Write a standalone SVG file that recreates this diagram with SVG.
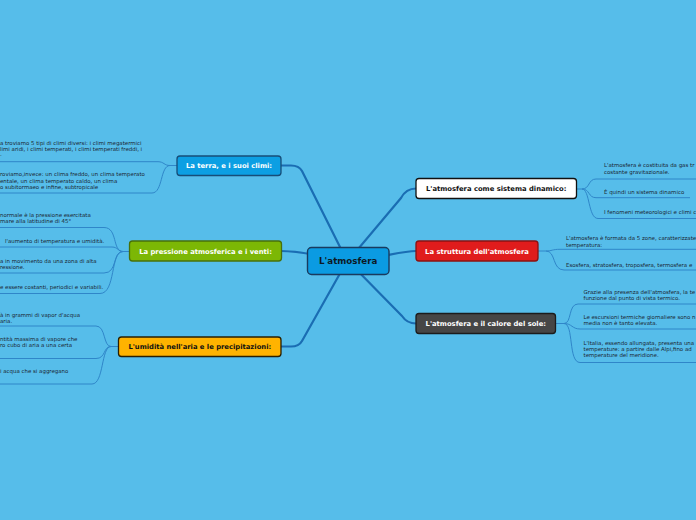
<svg xmlns="http://www.w3.org/2000/svg" width="696" height="520" viewBox="0 0 696 520">
<style>
.leaf{font-family:"DejaVu Sans",Verdana,sans-serif;font-size:5.45px;fill:#1b2733}
.lbl{font-family:"DejaVu Sans",Verdana,sans-serif;font-size:6.8px;font-weight:bold;text-anchor:middle}
.main{fill:none;stroke:#1a6db3;stroke-width:2.2;stroke-linecap:round;stroke-linejoin:round}
.sub{fill:none;stroke:#2f86c9;stroke-width:1}
.box{stroke-width:1.3}
</style>
<rect width="696" height="520" fill="#56bdea"/>
<g id="connectors">
<path class="main" d="M347,261 L302,171 Q299,165.5 291,165.5 L281,165.5"/>
<path class="main" d="M347,261 C322,256 302,251 281,251"/>
<path class="main" d="M347,261 L302,341 Q299,346.5 291,346.5 L281,346.5"/>
<path class="main" d="M348,261 L401,198 Q406,188.5 416,188.5"/>
<path class="main" d="M348,261 C382,258 400,251 416,251"/>
<path class="main" d="M348,261 L402,316 Q407,323.5 416,323.5"/>
<path class="sub" d="M177,165.5 L170,165.5 C164,165.5 164,161.7 158,161.7 L0,161.7"/>
<path class="sub" d="M170,165.5 C160,165.5 163,193 152,193 L0,193"/>
<path class="sub" d="M129.5,251.5 L123,251.5 C112,251.5 118,227.5 104,227.5 L0,227.5"/>
<path class="sub" d="M123,251.5 C118,251.5 118,247 112,247 L0,247"/>
<path class="sub" d="M123,251.5 C112,251.5 118,273 104,273 L0,273"/>
<path class="sub" d="M123,251.5 C110,251.5 116,293.5 100,293.5 L0,293.5"/>
<path class="sub" d="M118.5,346.5 L111,346.5 C103,346.5 106,326 96,326 L0,326"/>
<path class="sub" d="M111,346.5 C103,346.5 106,358.5 96,358.5 L0,358.5"/>
<path class="sub" d="M111,346.5 C101,346.5 104,384 92,384 L0,384"/>
<path class="sub" d="M576.5,189 L582,189 C590,189 588,179 596,179 L696,179"/>
<path class="sub" d="M582,189 C590,189 588,197.7 596,197.7 L690,197.7"/>
<path class="sub" d="M582,189 C590,189 588,218.5 598,218.5 L696,218.5"/>
<path class="sub" d="M538,251 L546,251 C552,251 552,249.3 560,249.3 L696,249.3"/>
<path class="sub" d="M546,251 C556,251 552,270 564,270 L696,270"/>
<path class="sub" d="M555.5,323.5 L564,323.5 C572,323.5 568,304 578,304 L696,304"/>
<path class="sub" d="M564,323.5 C572,323.5 572,329 580,329 L696,329"/>
<path class="sub" d="M564,323.5 C574,323.5 568,362.5 580,362.5 L696,362.5"/>
</g>
<g id="leaves-left" class="leaf">
<text x="0" y="145">a troviamo 5 tipi di climi diversi: i climi megatermici</text>
<text x="0" y="151">limi aridi, i climi temperati, i climi temperati freddi, i</text>
<text x="0" y="156">.</text>
<text x="0" y="176.3">roviamo,invece: un clima freddo, un clima temperato</text>
<text x="0" y="182.8">entale, un clima temperato caldo, un clima</text>
<text x="0" y="189.2">o subitormaeo e infine, subtropicale</text>
<text x="0" y="216.7">normale è la pressione esercitata</text>
<text x="0" y="223">mare alla latitudine di 45°</text>
<text x="5" y="242.7">l'aumento di temperatura e umidità.</text>
<text x="0" y="263.3">a in movimento da una zona di alta</text>
<text x="0" y="269.3">ressione.</text>
<text x="0" y="289">e essere costanti, periodici e variabili.</text>
<text x="0" y="316.7">à in grammi di vapor d'acqua</text>
<text x="0" y="322.7">aria.</text>
<text x="0" y="341">ntità massima di vapore che</text>
<text x="0" y="347.3">ro cubo di aria a una certa</text>
<text x="0" y="373.3">i acqua che si aggregano</text>
</g>
<g id="leaves-right" class="leaf">
<text x="604" y="167.3">L'atmosfera è costituita da gas tr</text>
<text x="604" y="173.8">costante gravitazionale.</text>
<text x="604" y="194">È quindi un sistema dinamico</text>
<text x="604" y="213.7">I fenomeni meteorologici e climi c</text>
<text x="566" y="240">L'atmosfera è formata da 5 zone, caratterizzate</text>
<text x="566" y="246.5">temperatura:</text>
<text x="566" y="266.7">Esosfera, stratosfera, troposfera, termosfera e</text>
<text x="583.5" y="294">Grazie alla presenza dell'atmosfera, la te</text>
<text x="583.5" y="300">funzione dal punto di vista termico.</text>
<text x="583.5" y="319.3">Le escursioni termiche giornaliere sono n</text>
<text x="583.5" y="325">media non è tanto elevata.</text>
<text x="583.5" y="344.7">L'Italia, essendo allungata, presenta una</text>
<text x="583.5" y="351">temperature: a partire dalle Alpi,fino ad</text>
<text x="583.5" y="357.3">temperature del meridione.</text>
</g>
<g id="n-terra">
<rect class="box" x="177" y="156" width="104" height="19.5" rx="3" fill="#0c9fe3" stroke="#174d78"/>
<text class="lbl" x="229" y="168.2" fill="#ffffff">La terra, e i suoi climi:</text>
</g>
<g id="n-pressione">
<rect class="box" x="129.5" y="241" width="152" height="20" rx="3" fill="#7cb705" stroke="#48700a"/>
<text class="lbl" x="205.5" y="253.5" fill="#ffffff">La pressione atmosferica e i venti:</text>
</g>
<g id="n-umidita">
<rect class="box" x="118.5" y="337" width="162.5" height="19.5" rx="3" fill="#ffb300" stroke="#2a1f00"/>
<text class="lbl" x="199.8" y="349.3" fill="#111111">L'umidità nell'aria e le precipitazioni:</text>
</g>
<g id="n-center">
<rect x="307.5" y="247.5" width="81.5" height="27" rx="4" fill="#0b9be2" stroke="#1a3a5e" stroke-width="1.4"/>
<text x="348.2" y="264.3" text-anchor="middle" font-family="DejaVu Sans,Verdana,sans-serif" font-size="8.7" font-weight="bold" fill="#0d1a26">L'atmosfera</text>
</g>
<g id="n-dinamico">
<rect class="box" x="416" y="178.5" width="160.5" height="20" rx="3" fill="#ffffff" stroke="#111111"/>
<text class="lbl" x="496.2" y="191" fill="#111111">L'atmosfera come sistema dinamico:</text>
</g>
<g id="n-struttura">
<rect class="box" x="416" y="241" width="122" height="20" rx="3" fill="#e01c1c" stroke="#8a1212"/>
<text class="lbl" x="477" y="253.5" fill="#ffffff">La struttura dell'atmosfera</text>
</g>
<g id="n-calore">
<rect class="box" x="416" y="313.5" width="139.5" height="20" rx="3" fill="#464646" stroke="#1c1c1c"/>
<text class="lbl" x="485.8" y="326" fill="#ffffff">L'atmosfera e il calore del sole:</text>
</g>
</svg>
